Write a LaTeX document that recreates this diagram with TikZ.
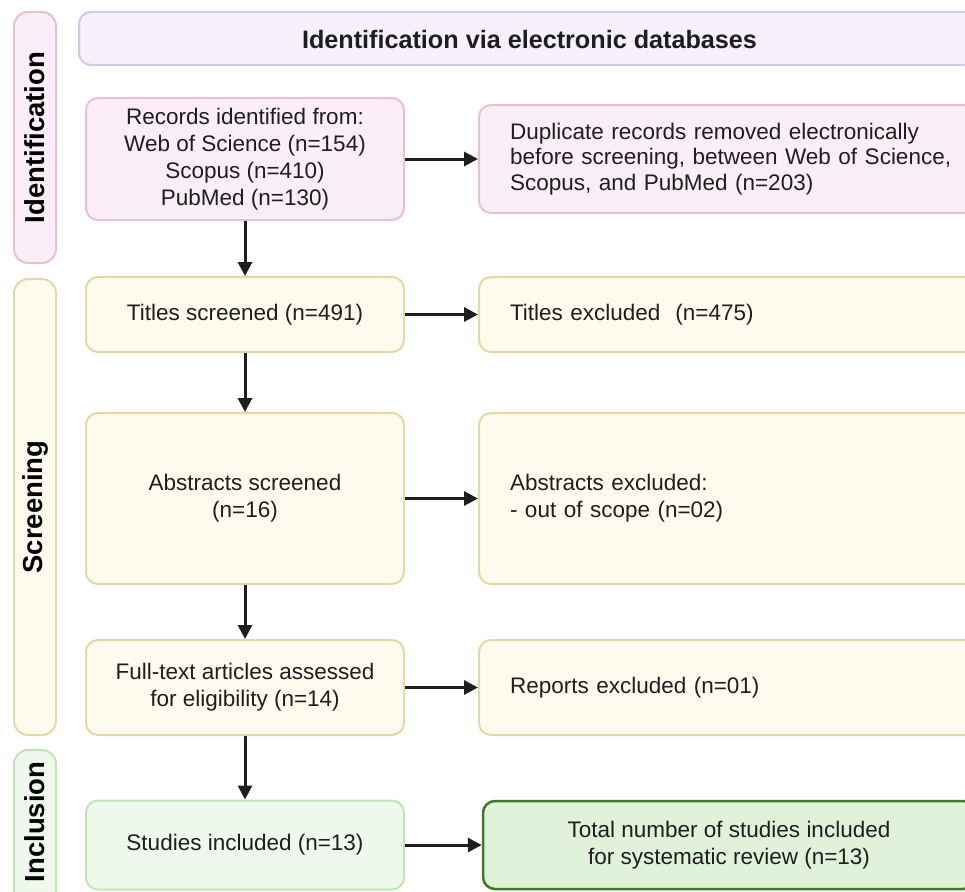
\documentclass[tikz,border=0pt]{standalone}
\usepackage{fontspec}
\setmainfont{Liberation Sans}
\usetikzlibrary{arrows.meta}
\definecolor{pinkfill}{HTML}{FCEEF6}
\definecolor{pinkdraw}{HTML}{E9BFD6}
\definecolor{lavfill}{HTML}{F6F1FC}
\definecolor{lavdraw}{HTML}{D5C6EC}
\definecolor{creamfill}{HTML}{FDFBEE}
\definecolor{creamdraw}{HTML}{E4D8A5}
\definecolor{grfill}{HTML}{EFF8EC}
\definecolor{grdraw}{HTML}{C2E3B6}
\definecolor{totfill}{HTML}{E0F3DA}
\definecolor{totdraw}{HTML}{3F7A2C}
\definecolor{ink}{HTML}{1E1E1E}
\tikzset{
  basebox/.style={rectangle, rounded corners=12pt, line width=2pt, text=ink,
    font=\fontsize{22.5pt}{27pt}\selectfont, align=center, inner sep=0pt},
  leftbox/.style={basebox, minimum width=318pt},
  rightbox/.style={basebox, minimum width=522pt, text width=460pt, align=left, inner xsep=31pt},
  pinkbox/.style={fill=pinkfill, draw=pinkdraw},
  creambox/.style={fill=creamfill, draw=creamdraw},
  greenbox/.style={fill=grfill, draw=grdraw},
  sidebox/.style={rectangle, rounded corners=14pt, line width=2pt, minimum width=42pt,
    inner sep=0pt},
  sidetext/.style={rotate=90, text=black, font=\fontsize{27.5pt}{32pt}\selectfont\bfseries},
  flow/.style={-{Triangle[length=14pt,width=14pt]}, line width=3pt, draw=ink},
}
\begin{document}
\begin{tikzpicture}[x=1pt,y=-1pt]
\useasboundingbox (0,0) rectangle (965,891);
\clip (0,0) rectangle (965,891);
% side labels
\node[sidebox, fill=pinkfill, draw=pinkdraw, minimum height=251pt] (sid) at (35,137.5) {};
\node[sidetext] (sidt) at (sid.center) {Identification};
\node[sidebox, fill=creamfill, draw=creamdraw, minimum height=456pt] (sscr) at (35,507) {};
\node[sidetext] (sscrt) at (sscr.center) {Screening};
\node[sidebox, fill=grfill, draw=grdraw, minimum height=160pt] (sinc) at (35,830) {};
\node[sidetext] (sinct) at (35,822) {Inclusion};
% header
\node[basebox, fill=lavfill, draw=lavdraw, minimum width=896pt, minimum height=53pt] (head) at (527,38.5) {};
\node[font=\fontsize{22pt}{26pt}\selectfont\bfseries, text=ink] (headt) at (529.5,39.5) {\resizebox{455pt}{!}{Identification via electronic databases}};
% left column
\node[leftbox, pinkbox, minimum height=122pt] (rec) at (245,159) {Records identified from:\\Web of Science (n=154)\\Scopus (n=410)\\PubMed (n=130)};
\node[leftbox, creambox, minimum height=75pt] (tit) at (245,314.5) {Titles screened (n=491)};
\node[leftbox, creambox, minimum height=171pt] (abs) at (245,498.5) {Abstracts screened\\(n=16)};
\node[leftbox, creambox, minimum height=95pt] (full) at (245,687.5) {Full-text articles assessed\\for eligibility (n=14)};
\node[leftbox, greenbox, minimum height=89pt] (stu) at (245,845) {Studies included (n=13)};
% right column
\node[rightbox, pinkbox, minimum height=108pt, font=\fontsize{22.5pt}{25.5pt}\selectfont] (dup) at (740,159) {Duplicate records removed electronically\\before screening, between Web of Science,\\Scopus, and PubMed (n=203)};
\node[rightbox, creambox, minimum height=75pt] (titx) at (740,314.5) {Titles excluded~ (n=475)};
\node[rightbox, creambox, minimum height=171pt] (absx) at (740,498.5) {Abstracts excluded:\\- out of scope (n=02)};
\node[rightbox, creambox, minimum height=95pt] (repx) at (740,687.5) {Reports excluded (n=01)};
\node[basebox, fill=totfill, draw=totdraw, line width=2.5pt, minimum width=492pt, minimum height=88pt] (tot) at (729,845) {Total number of studies included\\for systematic review (n=13)};
% connectors
\draw[flow] (rec.south) -- (tit.north);
\draw[flow] (tit.south) -- (abs.north);
\draw[flow] (abs.south) -- (full.north);
\draw[flow] (full.south) -- (stu.north);
\draw[flow] (rec.east) -- (dup.west);
\draw[flow] (tit.east) -- (titx.west);
\draw[flow] (abs.east) -- (absx.west);
\draw[flow] (full.east) -- (repx.west);
\draw[flow] (stu.east) -- (tot.west);
\end{tikzpicture}
\end{document}
